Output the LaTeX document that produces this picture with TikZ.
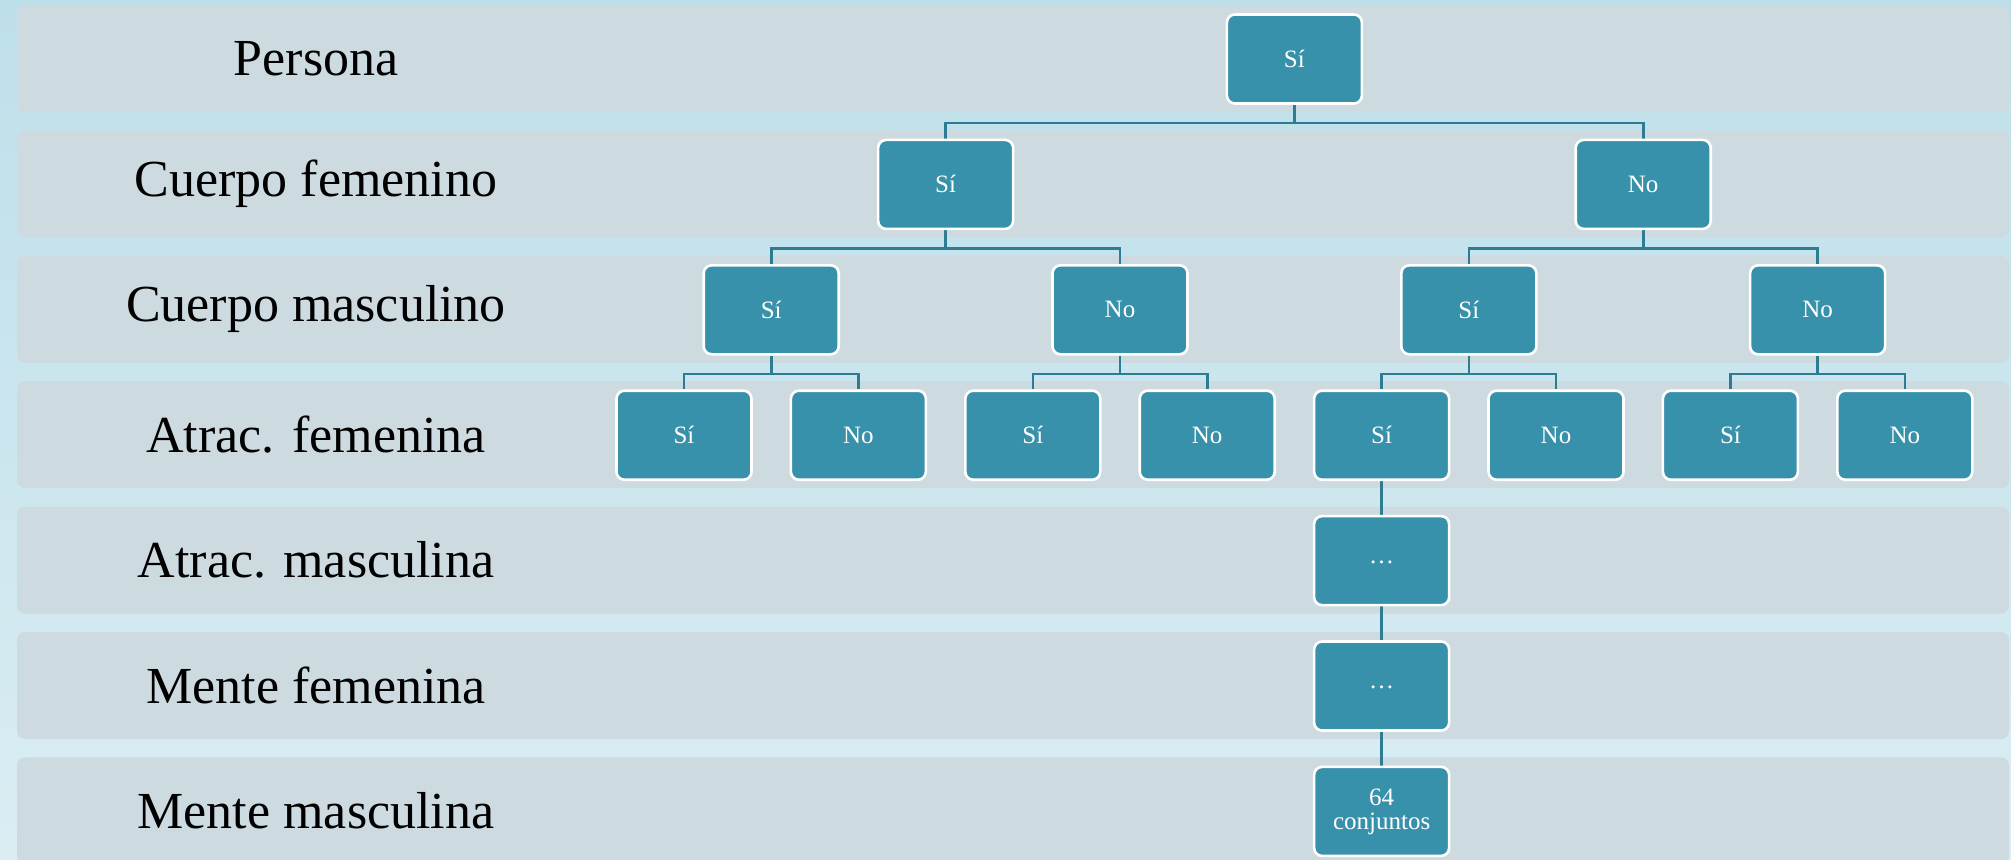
\documentclass[tikz,border=0pt]{standalone}
\usepackage{fontspec}
\setmainfont{Liberation Serif}
\usetikzlibrary{calc}
\pgfdeclarelayer{bg}\pgfdeclarelayer{conn}\pgfsetlayers{bg,conn,main}
\definecolor{bgtop}{HTML}{BDDFEA}
\definecolor{bgbot}{HTML}{DAEDF3}
\definecolor{bandc}{HTML}{CDDBE1}
\definecolor{boxc}{HTML}{3891AB}
\definecolor{connc}{HTML}{2E7C92}
\tikzset{
  band/.style={fill=bandc, rounded corners=4pt},
  lab/.style={font=\fontsize{26}{28}\selectfont, text=black, anchor=center},
  tbox/.style={draw=white, line width=1.3pt, fill=boxc, rounded corners=4pt,
    minimum width=67.5pt, minimum height=44.5pt, inner sep=0pt, text=white,
    align=center, font=\fontsize{12.5}{12}\selectfont},
  conn/.style={draw=connc, line width=1.3pt},
}
\newcommand{\lk}[2]{\draw[conn] (#1.south) -- ++(0,18.2) -| (#2.north);}
\begin{document}
\begin{tikzpicture}[x=0.5pt,y=-0.5pt]
\useasboundingbox (0,0) rectangle (2011,859);
\begin{pgfonlayer}{bg}
\shade[top color=bgtop, bottom color=bgbot] (0,0) rectangle (2011,859);
\foreach \k in {0,...,6}{
  \fill[band] (17,{5+125.4*\k}) rectangle (2009,{112+125.4*\k});
}
\end{pgfonlayer}
% labels
\node[lab] (l0) at (316,{58.5+125.4*0}) {Persona};
\node[lab] (l1) at (316,{58.5+125.4*1}) {Cuerpo femenino};
\node[lab] (l2) at (316,{58.5+125.4*2}) {Cuerpo masculino};
\node[lab] (l3) at (316,{58.5+125.4*3}) {Atrac. femenina};
\node[lab] (l4) at (316,{58.5+125.4*4}) {Atrac. masculina};
\node[lab] (l5) at (316,{58.5+125.4*5}) {Mente femenina};
\node[lab] (l6) at (316,{58.5+125.4*6}) {Mente masculina};
% tree
\node[tbox] (r) at (1294.4,59) {Sí};
\node[tbox] (a) at (945.6,184.4) {Sí};
\node[tbox] (b) at (1643.2,184.4) {No};
\node[tbox] (aa) at (771.2,309.8) {Sí};
\node[tbox] (ab) at (1120,309.8) {No};
\node[tbox] (ba) at (1468.8,309.8) {Sí};
\node[tbox] (bb) at (1817.6,309.8) {No};
\node[tbox] (c1) at (684,435.2) {Sí};
\node[tbox] (c2) at (858.4,435.2) {No};
\node[tbox] (c3) at (1032.8,435.2) {Sí};
\node[tbox] (c4) at (1207.2,435.2) {No};
\node[tbox] (c5) at (1381.6,435.2) {Sí};
\node[tbox] (c6) at (1556,435.2) {No};
\node[tbox] (c7) at (1730.4,435.2) {Sí};
\node[tbox] (c8) at (1904.8,435.2) {No};
\node[tbox] (d1) at (1381.6,560.6) {\raisebox{-3pt}{…}};
\node[tbox] (d2) at (1381.6,686) {\raisebox{-3pt}{…}};
\node[tbox] (d3) at (1381.6,811.4) {64\\conjuntos};
\begin{pgfonlayer}{conn}
\lk{r}{a}\lk{r}{b}
\lk{a}{aa}\lk{a}{ab}\lk{b}{ba}\lk{b}{bb}
\lk{aa}{c1}\lk{aa}{c2}\lk{ab}{c3}\lk{ab}{c4}
\lk{ba}{c5}\lk{ba}{c6}\lk{bb}{c7}\lk{bb}{c8}
\draw[conn] (c5.south) -- (d1.north);
\draw[conn] (d1.south) -- (d2.north);
\draw[conn] (d2.south) -- (d3.north);
\end{pgfonlayer}
\end{tikzpicture}
\end{document}
